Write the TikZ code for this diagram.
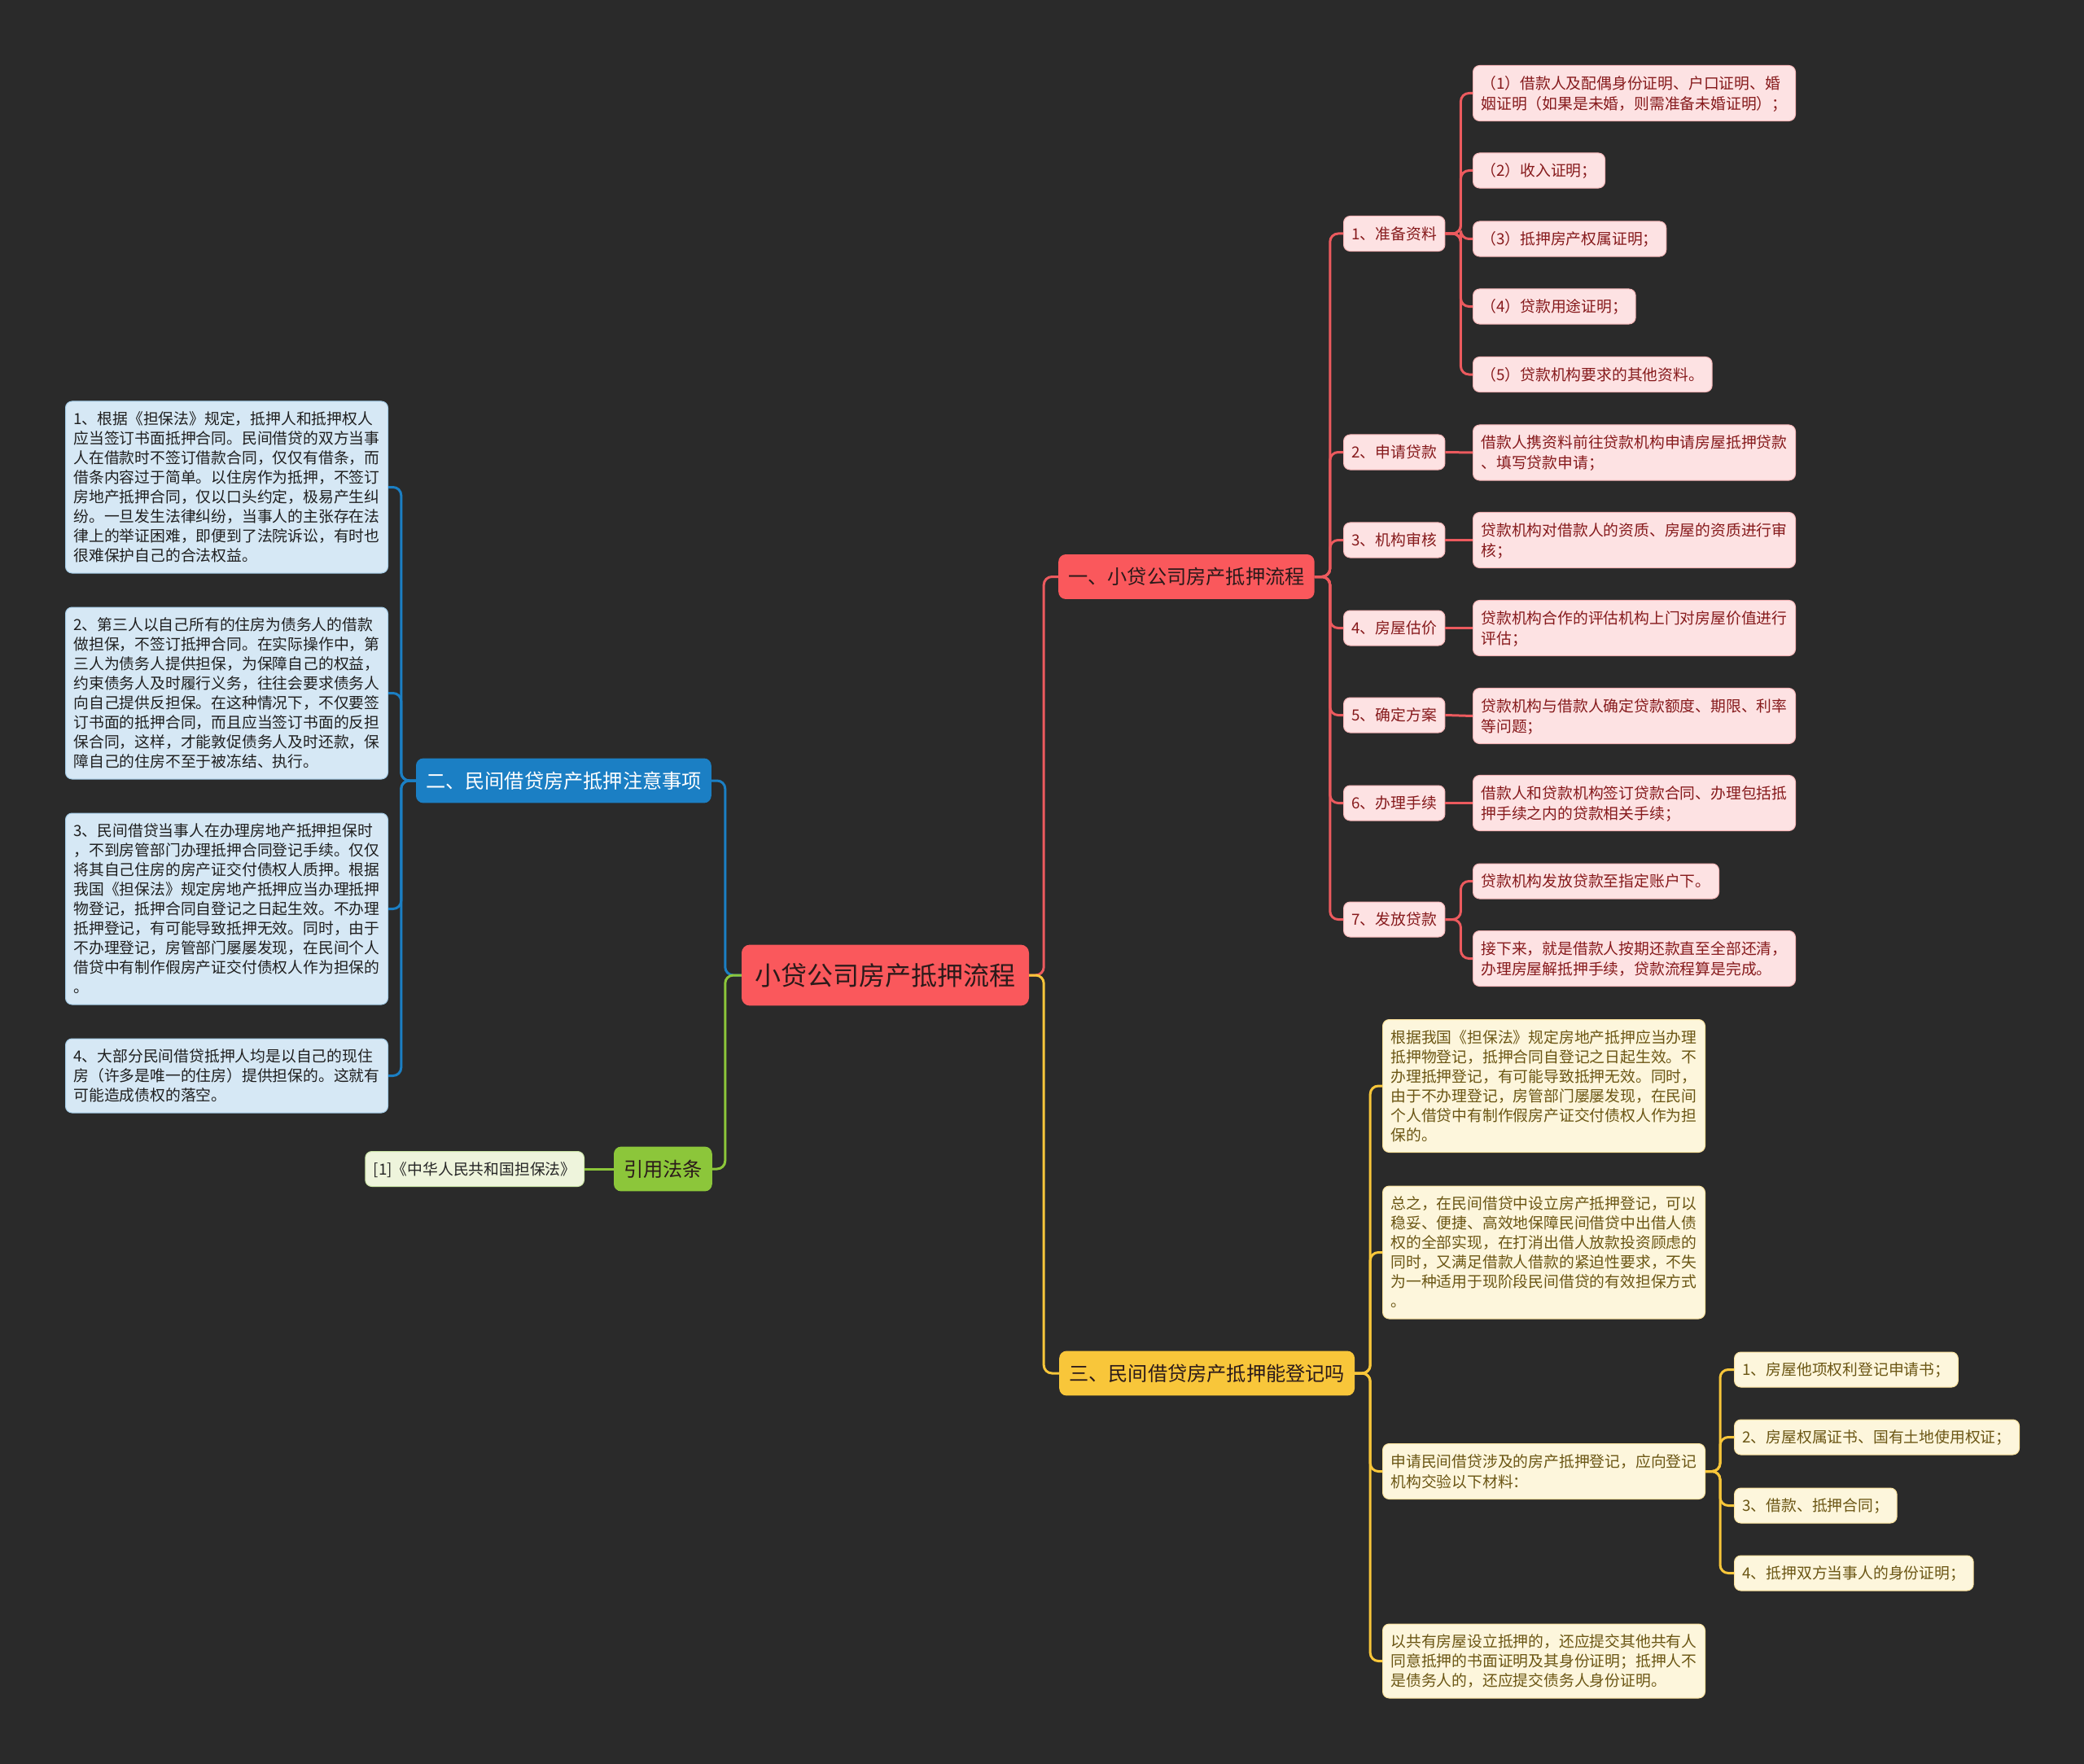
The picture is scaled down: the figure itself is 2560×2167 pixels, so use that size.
\documentclass[tikz,border=0pt]{standalone}
\usepackage{fontspec}
\setmainfont{Noto Sans CJK SC}

\definecolor{bgdark}{HTML}{2A2A2A}
\definecolor{rootred}{HTML}{FA585C}
\definecolor{lnred}{HTML}{EC5A5E}
\definecolor{leafred}{HTML}{FDE2E3}
\definecolor{inkred}{HTML}{861A1C}
\definecolor{secblue}{HTML}{1B7FC4}
\definecolor{leafblue}{HTML}{D6E8F5}
\definecolor{secgreen}{HTML}{8CC63A}
\definecolor{leafgreen}{HTML}{EEF4DC}
\definecolor{secyellow}{HTML}{F8C63A}
\definecolor{leafyellow}{HTML}{FDF6DC}
\definecolor{inkyellow}{HTML}{6B5614}
\definecolor{inkdark}{HTML}{2B1A1A}

\newcommand{\lnstrut}{\rule[-0.26em]{0pt}{1.277em}}

\begin{document}
\begin{tikzpicture}[
    x=1pt, y=-1pt,
    box/.style={rounded corners=8pt, align=left, inner xsep=10pt, inner ysep=9.5pt,
        font=\fontsize{18.8}{24}\selectfont,
        execute at begin node=\lnstrut, execute at end node=\lnstrut},
    wide/.style={text width=376pt},
    rootnode/.style={box, fill=rootred, text=inkdark, rounded corners=10pt,
        font=\fontsize{32}{41}\selectfont, inner xsep=16.5pt, inner ysep=17pt},
    sec/.style={box, rounded corners=9pt, font=\fontsize{24.2}{31}\selectfont,
        inner xsep=12pt, inner ysep=12pt},
    redleaf/.style={box, fill=leafred, draw=lnred!45, line width=1pt, text=inkred},
    blueleaf/.style={box, wide, fill=leafblue, draw=secblue!40, line width=1pt, text=black!88},
    greenleaf/.style={box, fill=leafgreen, draw=secgreen!45, line width=1pt, text=black!85},
    yellowleaf/.style={box, fill=leafyellow, draw=secyellow!50, line width=1pt, text=inkyellow},
    redln/.style={draw=lnred, line width=3pt, rounded corners=10pt},
    blueln/.style={draw=secblue, line width=3pt, rounded corners=10pt},
    greenln/.style={draw=secgreen, line width=3pt, rounded corners=10pt},
    yellowln/.style={draw=secyellow, line width=3pt, rounded corners=10pt}
]

    % Canvas
    \useasboundingbox (0,0) rectangle (2560,2167);
    \fill[bgdark] (0,0) rectangle (2560,2167);

    % Root
    \node[rootnode] (root) at (1087.5,1198) {小贷公司房产抵押流程};

    % Main branches
    \node[sec, fill=rootred, text=inkdark, anchor=west] (flow) at (1300,708.5) {一、小贷公司房产抵押流程};
    \node[sec, fill=secblue, text=white, anchor=east] (notes) at (874,959) {二、民间借贷房产抵押注意事项};
    \node[sec, fill=secgreen, text=inkdark, anchor=east] (cite) at (875,1436) {引用法条};
    \node[sec, fill=secyellow, text=inkdark, anchor=west] (reg) at (1301,1687) {三、民间借贷房产抵押能登记吗};

    % Steps of branch one
    \node[redleaf, anchor=west] (st1) at (1650,287) {1、准备资料};
    \node[redleaf, anchor=west] (st2) at (1650,555.5) {2、申请贷款};
    \node[redleaf, anchor=west] (st3) at (1650,663.5) {3、机构审核};
    \node[redleaf, anchor=west] (st4) at (1650,771.5) {4、房屋估价};
    \node[redleaf, anchor=west] (st5) at (1650,878.5) {5、确定方案};
    \node[redleaf, anchor=west] (st6) at (1650,986.5) {6、办理手续};
    \node[redleaf, anchor=west] (st7) at (1650,1129.5) {7、发放贷款};

    % Materials to prepare
    \node[redleaf, wide, anchor=west] (mat1) at (1809,114.5) {（1）借款人及配偶身份证明、户口证明、婚\\姻证明（如果是未婚，则需准备未婚证明）；};
    \node[redleaf, anchor=west] (mat2) at (1809,209.5) {（2）收入证明；};
    \node[redleaf, anchor=west] (mat3) at (1809,293.5) {（3）抵押房产权属证明；};
    \node[redleaf, anchor=west] (mat4) at (1809,376.5) {（4）贷款用途证明；};
    \node[redleaf, anchor=west] (mat5) at (1809,460) {（5）贷款机构要求的其他资料。};

    % Step details
    \node[redleaf, wide, anchor=west] (apply) at (1809,556) {借款人携资料前往贷款机构申请房屋抵押贷款\\、填写贷款申请；};
    \node[redleaf, wide, anchor=west] (audit) at (1809,663.5) {贷款机构对借款人的资质、房屋的资质进行审\\核；};
    \node[redleaf, wide, anchor=west] (value) at (1809,771.5) {贷款机构合作的评估机构上门对房屋价值进行\\评估；};
    \node[redleaf, wide, anchor=west] (plan) at (1809,879.5) {贷款机构与借款人确定贷款额度、期限、利率\\等问题；};
    \node[redleaf, wide, anchor=west] (sign) at (1809,986.5) {借款人和贷款机构签订贷款合同、办理包括抵\\押手续之内的贷款相关手续；};
    \node[redleaf, anchor=west] (pay1) at (1809,1082.5) {贷款机构发放贷款至指定账户下。};
    \node[redleaf, wide, anchor=west] (pay2) at (1809,1177.5) {接下来，就是借款人按期还款直至全部还清，\\办理房屋解抵押手续，贷款流程算是完成。};

    % Notes of branch two
    \node[blueleaf, anchor=east] (nt1) at (477,598.5) {1、根据《担保法》规定，抵押人和抵押权人\\应当签订书面抵押合同。民间借贷的双方当事\\人在借款时不签订借款合同，仅仅有借条，而\\借条内容过于简单。以住房作为抵押，不签订\\房地产抵押合同，仅以口头约定，极易产生纠\\纷。一旦发生法律纠纷，当事人的主张存在法\\律上的举证困难，即便到了法院诉讼，有时也\\很难保护自己的合法权益。};
    \node[blueleaf, anchor=east] (nt2) at (477,851.5) {2、第三人以自己所有的住房为债务人的借款\\做担保，不签订抵押合同。在实际操作中，第\\三人为债务人提供担保，为保障自己的权益，\\约束债务人及时履行义务，往往会要求债务人\\向自己提供反担保。在这种情况下，不仅要签\\订书面的抵押合同，而且应当签订书面的反担\\保合同，这样，才能敦促债务人及时还款，保\\障自己的住房不至于被冻结、执行。};
    \node[blueleaf, anchor=east] (nt3) at (477,1116.5) {3、民间借贷当事人在办理房地产抵押担保时\\，不到房管部门办理抵押合同登记手续。仅仅\\将其自己住房的房产证交付债权人质押。根据\\我国《担保法》规定房地产抵押应当办理抵押\\物登记，抵押合同自登记之日起生效。不办理\\抵押登记，有可能导致抵押无效。同时，由于\\不办理登记，房管部门屡屡发现，在民间个人\\借贷中有制作假房产证交付债权人作为担保的\\。};
    \node[blueleaf, anchor=east] (nt4) at (477,1321.5) {4、大部分民间借贷抵押人均是以自己的现住\\房（许多是唯一的住房）提供担保的。这就有\\可能造成债权的落空。};

    % Cited law
    \node[greenleaf, anchor=east] (law) at (718,1436) {[1]《中华人民共和国担保法》};

    % Registration of branch three
    \node[yellowleaf, wide, anchor=west] (rg1) at (1698,1334) {根据我国《担保法》规定房地产抵押应当办理\\抵押物登记，抵押合同自登记之日起生效。不\\办理抵押登记，有可能导致抵押无效。同时，\\由于不办理登记，房管部门屡屡发现，在民间\\个人借贷中有制作假房产证交付债权人作为担\\保的。};
    \node[yellowleaf, wide, anchor=west] (rg2) at (1698,1538.5) {总之，在民间借贷中设立房产抵押登记，可以\\稳妥、便捷、高效地保障民间借贷中出借人债\\权的全部实现，在打消出借人放款投资顾虑的\\同时，又满足借款人借款的紧迫性要求，不失\\为一种适用于现阶段民间借贷的有效担保方式\\。};
    \node[yellowleaf, wide, anchor=west] (rg3) at (1698,1807.5) {申请民间借贷涉及的房产抵押登记，应向登记\\机构交验以下材料：};
    \node[yellowleaf, wide, anchor=west] (rg4) at (1698,2040.5) {以共有房屋设立抵押的，还应提交其他共有人\\同意抵押的书面证明及其身份证明；抵押人不\\是债务人的，还应提交债务人身份证明。};

    % Documents to submit
    \node[yellowleaf, anchor=west] (doc1) at (2130,1682.5) {1、房屋他项权利登记申请书；};
    \node[yellowleaf, anchor=west] (doc2) at (2130,1765.5) {2、房屋权属证书、国有土地使用权证；};
    \node[yellowleaf, anchor=west] (doc3) at (2130,1849.5) {3、借款、抵押合同；};
    \node[yellowleaf, anchor=west] (doc4) at (2130,1932.5) {4、抵押双方当事人的身份证明；};

    % Edges from root
    \draw[redln] (root.east) -- ++(18,0) |- (flow.west);
    \draw[blueln] (root.west) -- ++(-20,0) |- (notes.east);
    \draw[greenln] (root.west) -- ++(-20,0) |- (cite.east);
    \draw[yellowln] (root.east) -- ++(18,0) |- (reg.west);

    % Edges of branch one
    \draw[redln] (flow.east) -- ++(19,0) |- (st1.west);
    \draw[redln] (flow.east) -- ++(19,0) |- (st2.west);
    \draw[redln] (flow.east) -- ++(19,0) |- (st3.west);
    \draw[redln] (flow.east) -- ++(19,0) |- (st4.west);
    \draw[redln] (flow.east) -- ++(19,0) |- (st5.west);
    \draw[redln] (flow.east) -- ++(19,0) |- (st6.west);
    \draw[redln] (flow.east) -- ++(19,0) |- (st7.west);

    \draw[redln] (st1.east) -- ++(19,0) |- (mat1.west);
    \draw[redln] (st1.east) -- ++(19,0) |- (mat2.west);
    \draw[redln] (st1.east) -- ++(19,0) |- (mat3.west);
    \draw[redln] (st1.east) -- ++(19,0) |- (mat4.west);
    \draw[redln] (st1.east) -- ++(19,0) |- (mat5.west);
    \draw[redln] (st2.east) -- (apply.west);
    \draw[redln] (st3.east) -- (audit.west);
    \draw[redln] (st4.east) -- (value.west);
    \draw[redln] (st5.east) -- (plan.west);
    \draw[redln] (st6.east) -- (sign.west);
    \draw[redln] (st7.east) -- ++(19,0) |- (pay1.west);
    \draw[redln] (st7.east) -- ++(19,0) |- (pay2.west);

    % Edges of branch two
    \draw[blueln] (notes.west) -- ++(-18,0) |- (nt1.east);
    \draw[blueln] (notes.west) -- ++(-18,0) |- (nt2.east);
    \draw[blueln] (notes.west) -- ++(-18,0) |- (nt3.east);
    \draw[blueln] (notes.west) -- ++(-18,0) |- (nt4.east);

    % Edge to cited law
    \draw[greenln] (cite.west) -- (law.east);

    % Edges of branch three
    \draw[yellowln] (reg.east) -- ++(19,0) |- (rg1.west);
    \draw[yellowln] (reg.east) -- ++(19,0) |- (rg2.west);
    \draw[yellowln] (reg.east) -- ++(19,0) |- (rg3.west);
    \draw[yellowln] (reg.east) -- ++(19,0) |- (rg4.west);

    \draw[yellowln] (rg3.east) -- ++(18,0) |- (doc1.west);
    \draw[yellowln] (rg3.east) -- ++(18,0) |- (doc2.west);
    \draw[yellowln] (rg3.east) -- ++(18,0) |- (doc3.west);
    \draw[yellowln] (rg3.east) -- ++(18,0) |- (doc4.west);

\end{tikzpicture}
\end{document}
